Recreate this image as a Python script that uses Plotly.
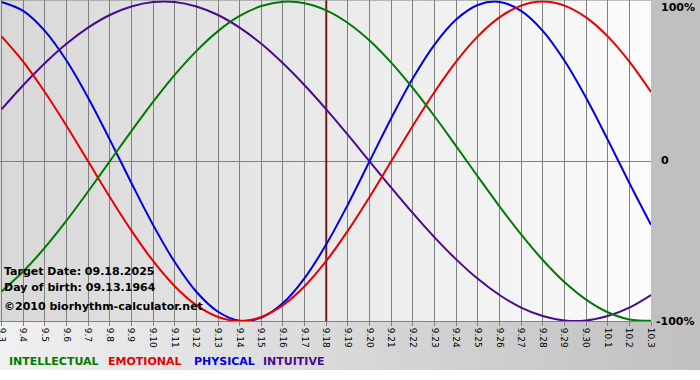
import plotly.graph_objects as go

# ---- data ----
day_labels = ['9.3', '9.4', '9.5', '9.6', '9.7', '9.8', '9.9', '9.10', '9.11', '9.12',
              '9.13', '9.14', '9.15', '9.16', '9.17', '9.18', '9.19', '9.20', '9.21', '9.22',
              '9.23', '9.24', '9.25', '9.26', '9.27', '9.28', '9.29', '9.30', '10.1', '10.2', '10.3']

physical = [0.998, 0.942, 0.817, 0.631, 0.398, 0.136, -0.136, -0.398, -0.631, -0.817,
            -0.942, -0.998, -0.979, -0.888, -0.731, -0.520, -0.270, 0.0, 0.270, 0.520,
            0.731, 0.888, 0.979, 0.998, 0.942, 0.817, 0.631, 0.398, 0.136, -0.136, -0.398]

emotional = [0.782, 0.624, 0.434, 0.223, 0.0, -0.223, -0.434, -0.624, -0.782, -0.901,
             -0.975, -1.0, -0.975, -0.901, -0.782, -0.624, -0.434, -0.223, 0.0, 0.223,
             0.434, 0.624, 0.782, 0.901, 0.975, 1.0, 0.975, 0.901, 0.782, 0.624, 0.434]

intellectual = [-0.815, -0.690, -0.541, -0.372, -0.189, 0.0, 0.189, 0.372, 0.541, 0.690,
                0.815, 0.910, 0.972, 0.999, 0.990, 0.945, 0.866, 0.756, 0.618, 0.458,
                0.282, 0.095, -0.095, -0.282, -0.458, -0.618, -0.756, -0.866, -0.945, -0.990, -0.999]

intuitive = [0.325, 0.476, 0.614, 0.736, 0.837, 0.916, 0.969, 0.997, 0.997, 0.969,
             0.916, 0.837, 0.736, 0.614, 0.476, 0.325, 0.165, 0.0, -0.165, -0.325,
             -0.476, -0.614, -0.736, -0.837, -0.916, -0.969, -0.997, -0.997, -0.969, -0.916, -0.837]

target_label = '9.18'
y_tick_vals = [1, 0, -1]
y_tick_text = ['100%', '0', '-100%']
info_lines = ['Target Date: 09.18.2025', 'Day of birth: 09.13.1964', '\u00a92010 biorhythm-calculator.net']
legend_names = ['INTELLECTUAL', 'EMOTIONAL', 'PHYSICAL', 'INTUITIVE']

# ---- styling ----
colors = {'INTELLECTUAL': '#007a00', 'EMOTIONAL': '#e60000', 'PHYSICAL': '#0000e0', 'INTUITIVE': '#4b0a8c'}
W, H = 700, 380
ML, MR, MT, MB = 0, 49, 0, 59
PW, PH = W - ML - MR, H - MT - MB
FONT = 'DejaVu Sans'

x = list(range(len(day_labels)))
series = {'INTELLECTUAL': intellectual, 'EMOTIONAL': emotional,
          'PHYSICAL': physical, 'INTUITIVE': intuitive}

fig = go.Figure()

# target date line
tx = day_labels.index(target_label)
fig.add_trace(go.Scatter(x=[tx, tx], y=[-1.02, 1.02], mode='lines',
                         line=dict(color='#7a1a1a', width=2), hoverinfo='skip', showlegend=False))

for name in ['PHYSICAL', 'INTUITIVE', 'EMOTIONAL', 'INTELLECTUAL']:
    fig.add_trace(go.Scatter(x=x, y=series[name], mode='lines', name=name,
                             line=dict(color=colors[name], width=2, shape='spline', smoothing=1.0),
                             showlegend=False))

shapes = []


def lerp(c1, c2, t):
    return '#%02x%02x%02x' % tuple(int(round(a + (b - a) * t)) for a, b in zip(c1, c2))


# plot-area gradient (dark left -> light right)
N = 60
for i in range(N):
    shapes.append(dict(type='rect', xref='paper', yref='paper', x0=i / N, x1=(i + 1) / N + 0.002,
                       y0=0, y1=1, fillcolor=lerp((0xd8, 0xd8, 0xd8), (0xfb, 0xfb, 0xfb), (i + 0.5) / N),
                       line=dict(width=0), layer='below'))
# right margin
xr = 1 + MR / PW
shapes.append(dict(type='rect', xref='paper', yref='paper', x0=1, x1=xr, y0=0, y1=1,
                   fillcolor='#c0c0c0', line=dict(width=0), layer='below'))
# bottom gradient (light left -> grey right)
yb = -49 / PH
for i in range(N):
    shapes.append(dict(type='rect', xref='paper', yref='paper', x0=i / N * xr, x1=(i + 1) / N * xr + 0.002,
                       y0=yb, y1=0, fillcolor=lerp((0xf0, 0xf0, 0xf0), (0xc0, 0xc0, 0xc0), (i + 0.5) / N),
                       line=dict(width=0), layer='below'))
# top border
shapes.append(dict(type='line', xref='paper', yref='paper', x0=0, x1=1, y0=1, y1=1,
                   line=dict(color='#808080', width=1)))

annotations = []
ypos = {1: 7, 0: 161, -1: 321}
xpos = {1: 659, 0: 659, -1: 654}
for v, t in zip(y_tick_vals, y_tick_text):
    annotations.append(dict(xref='paper', yref='paper', x=xpos[v] / PW, y=1 - ypos[v] / PH,
                            xanchor='left', yanchor='middle', showarrow=False,
                            text='<b>%s</b>' % t, font=dict(family=FONT, size=11, color='black')))

for k, line in enumerate(info_lines):
    ypix = [271, 287, 306][k]
    annotations.append(dict(xref='paper', yref='paper', x=2 / PW, y=1 - ypix / PH, xanchor='left',
                            yanchor='middle', showarrow=False, text='<b>%s</b>' % line,
                            font=dict(family=FONT, size=11, color='black')))

leg_x = {'INTELLECTUAL': 7, 'EMOTIONAL': 106, 'PHYSICAL': 192, 'INTUITIVE': 261}
for n in legend_names:
    annotations.append(dict(xref='paper', yref='paper', x=leg_x[n] / PW, y=1 - 362 / PH,
                            xanchor='left', yanchor='middle', showarrow=False,
                            text='<b>%s</b>' % n, font=dict(family=FONT, size=11, color=colors[n])))

fig.update_layout(
    width=W, height=H, margin=dict(l=ML, r=MR, t=MT, b=MB, pad=0, autoexpand=False),
    paper_bgcolor='white', plot_bgcolor='rgba(0,0,0,0)',
    shapes=shapes, annotations=annotations, showlegend=False,
    xaxis=dict(range=[-0.07, len(day_labels) - 1], tickvals=x, ticktext=day_labels, tickangle=90,
               showgrid=True, gridcolor='#808080', gridwidth=1, zeroline=False,
               showline=True, linecolor='#808080', linewidth=1, automargin=False,
               ticks='outside', ticklen=4, tickcolor='#808080', ticklabeloverflow='allow',
               tickfont=dict(family=FONT, size=9, color='black'), fixedrange=True),
    yaxis=dict(range=[-1.0, 1.01], tickvals=[0], showticklabels=False, showgrid=True, automargin=False,
               gridcolor='#808080', gridwidth=1, zeroline=False, fixedrange=True),
)

fig.write_html('out.html', config={'displayModeBar': False},
               post_script="document.body.style.margin='0px';document.body.style.overflow='hidden';")
